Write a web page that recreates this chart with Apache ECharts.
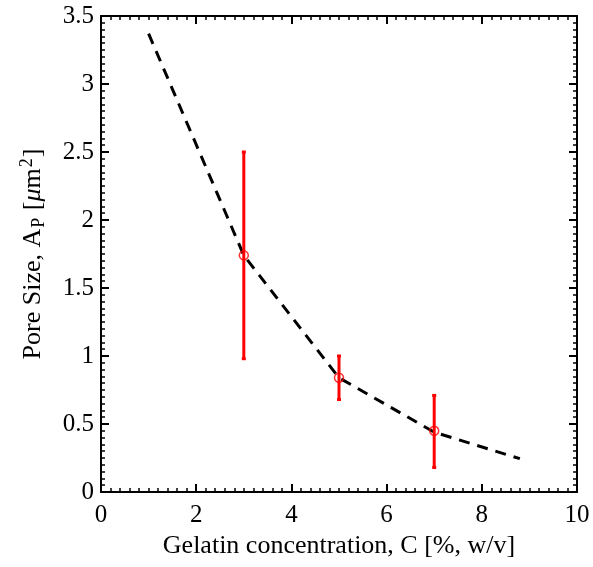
<!DOCTYPE html>
<html><head><meta charset="utf-8">
<script src="https://cdn.jsdelivr.net/npm/echarts@6/dist/echarts.min.js"></script>
<style>html,body{margin:0;padding:0;background:#fff}#c{width:593px;height:567px}</style>
</head><body><div id="c"></div>
<script>
// Data
const curveC = [1, 3, 5, 7, 8.8];
const curveA = [3.37, 1.74, 0.84, 0.44, 0.245];
const pointC = [3, 5, 7];
const pointA = [1.74, 0.84, 0.45];
const errLow = [0.98, 0.68, 0.18];
const errHigh = [2.50, 1.00, 0.71];
const xTicks = [0, 2, 4, 6, 8, 10];
const yTicks = [0, 0.5, 1, 1.5, 2, 2.5, 3, 3.5];

const FONT = 'Liberation Serif';
const FS = 25;
const TS = 26;
const chart = echarts.init(document.getElementById('c'));
const axisCommon = {
  axisLine: {show: true, onZero: false, lineStyle: {color: '#000', width: 2}},
  axisTick: {show: true, inside: true, length: 8, lineStyle: {color: '#000', width: 2}},
  minorTick: {show: true, splitNumber: 10, length: 4, lineStyle: {color: '#000', width: 1.5}},
  splitLine: {show: false}
};
const xBase = Object.assign({type: 'value', min: xTicks[0], max: xTicks[xTicks.length-1], interval: 2}, axisCommon);
const yBase = Object.assign({type: 'value', min: yTicks[0], max: yTicks[yTicks.length-1], interval: 0.5}, axisCommon);

const errData = pointC.map((c, i) => [c, errLow[i], errHigh[i]]);

chart.setOption({
  animation: false,
  grid: {left: 101, right: 16, top: 16, bottom: 75},
  xAxis: [
    Object.assign({}, xBase, {
      position: 'bottom',
      axisLabel: {fontFamily: FONT, fontSize: FS, color: '#000', margin: 11},
      name: 'Gelatin concentration, C [%, w/v]', nameLocation: 'middle', nameGap: 35,
      nameTextStyle: {fontFamily: FONT, fontSize: TS, color: '#000'}
    }),
    Object.assign({}, xBase, {position: 'top', axisLabel: {show: false}})
  ],
  yAxis: [
    Object.assign({}, yBase, {
      position: 'left',
      axisLabel: {fontFamily: FONT, fontSize: FS, color: '#000', margin: 7},
      name: '{n|Pore Size, A}{sub|P}{n| [}{mu|μ}{n|m}{sup|2}{n|]}',
      nameLocation: 'middle', nameGap: 53, nameRotate: 90,
      nameTextStyle: {
        fontFamily: FONT, fontSize: TS, color: '#000',
        rich: {
          n: {fontFamily: FONT, fontSize: TS, color: '#000'},
          mu: {fontFamily: FONT, fontSize: TS, color: '#000', fontStyle: 'italic'},
          sub: {fontFamily: FONT, fontSize: 18, color: '#000', padding: [12, 1, 0, 1]},
          sup: {fontFamily: FONT, fontSize: 18, color: '#000', padding: [0, 1, 12, 1]}
        }
      }
    }),
    Object.assign({}, yBase, {position: 'right', axisLabel: {show: false}})
  ],
  series: [
    {
      type: 'line', xAxisIndex: 0, yAxisIndex: 0,
      data: curveC.map((c, i) => [c, curveA[i]]),
      showSymbol: false, symbol: 'none',
      lineStyle: {color: '#000', width: 3, type: [11, 8]},
      z: 2
    },
    {
      type: 'custom', xAxisIndex: 0, yAxisIndex: 0,
      data: errData,
      renderItem: function (params, api) {
        const x = api.value(0);
        const lo = api.coord([x, api.value(1)]);
        const hi = api.coord([x, api.value(2)]);
        const st = {stroke: '#ff0000', lineWidth: 3};
        return {type: 'group', children: [
          {type: 'line', shape: {x1: lo[0], y1: lo[1], x2: hi[0], y2: hi[1]}, style: st},
          {type: 'line', shape: {x1: lo[0]-2, y1: lo[1], x2: lo[0]+2, y2: lo[1]}, style: st},
          {type: 'line', shape: {x1: hi[0]-2, y1: hi[1], x2: hi[0]+2, y2: hi[1]}, style: st}
        ]};
      },
      encode: {x: 0, y: [1, 2]},
      z: 3
    },
    {
      type: 'scatter', xAxisIndex: 0, yAxisIndex: 0,
      data: pointC.map((c, i) => [c, pointA[i]]),
      symbol: 'circle', symbolSize: 9,
      itemStyle: {color: 'rgba(0,0,0,0)', borderColor: '#ff0000', borderWidth: 1.5},
      z: 4
    }
  ]
});
</script></body></html>
